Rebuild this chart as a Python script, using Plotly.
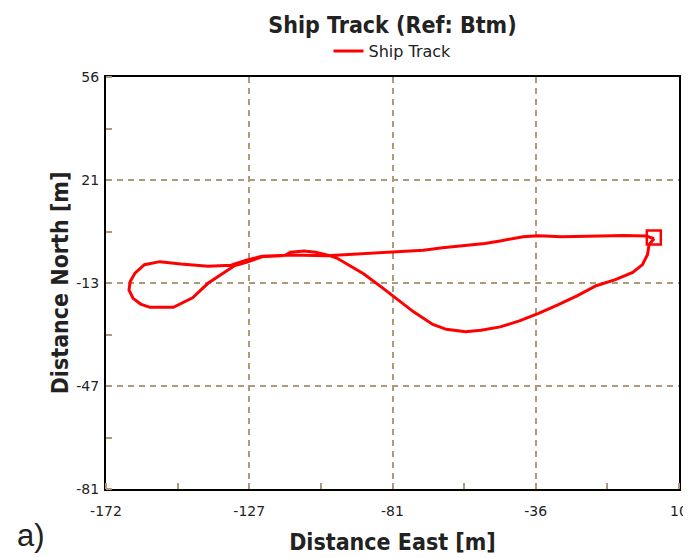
import plotly.graph_objects as go

# Ship track (Distance East, Distance North) in metres
east = [2.1, 0.5, 0.0, -1.6, -4.7, -10.2, -16.3, -22.4, -28.5, -34.6, -40.7, -46.8,
        -52.9, -57.8, -63.9, -68.2, -74.3, -80.4, -84.7, -90.2, -95.0, -98.7, -101.2,
        -105.4, -109.1, -113.4, -115.2, -122.5, -127.4, -131.1, -134.7, -139.6, -144.5,
        -148.2, -150.6, -158.0, -161.0, -163.4, -164.7, -164.3, -162.8, -159.8, -154.9,
        -148.2, -139.6, -132.3, -127.4, -122.5, -117.6, -112.8, -101.8, -95.7, -88.3,
        -81.0, -71.2, -65.1, -57.8, -51.7, -46.8, -39.5, -34.6, -27.3, -15.0, -7.7,
        -0.4, 2.1]
north = [2.2, 0.3, -3.0, -6.4, -9.0, -11.4, -13.4, -16.8, -19.8, -22.6, -25.1, -27.1,
         -28.2, -28.7, -27.9, -26.3, -22.1, -17.0, -13.7, -9.4, -6.4, -4.2, -3.3,
         -2.3, -1.9, -2.3, -3.4, -3.8, -5.6, -6.7, -9.2, -12.6, -17.4,
         -19.5, -20.6, -20.6, -19.5, -17.6, -14.8, -12.0, -9.2, -6.4, -5.4,
         -6.2, -6.9, -6.6, -4.9, -3.6, -3.4, -3.2, -3.4, -3.0, -2.5,
         -2.0, -1.6, -0.8, -0.1, 0.6, 1.5, 2.9, 3.2, 2.9, 3.1, 3.3,
         3.1, 2.2]

# Start / end marker
marker_east = [2.0]
marker_north = [2.6]

x_tickvals = [-172, -126.5, -81, -35.5, 10]
x_ticktext = ["-172", "-127", "-81", "-36", "10"]
y_tickvals = [-81, -46.75, -12.5, 21.75, 56]
y_ticktext = ["-81", "-47", "-13", "21", "56"]

GRID = "#ad9a7a"
FONT_NARROW = "DejaVu Sans Condensed, Liberation Sans Narrow, sans-serif"
FONT = "DejaVu Sans, Liberation Sans, sans-serif"

# page body has an 8px margin, so the figure is 8px smaller than the window
W, H = 683, 550

fig = go.Figure()
fig.add_trace(go.Scatter(x=east, y=north, mode="lines", name="Ship Track",
                         line=dict(color="#ff0000", width=3)))
fig.add_trace(go.Scatter(x=marker_east, y=marker_north, mode="markers", showlegend=False,
                         marker=dict(symbol="square-open", size=14, color="#ff0000",
                                     line=dict(width=2.5, color="#ff0000"))))

axis_common = dict(
    showgrid=True, gridcolor=GRID, griddash="6px,5px", gridwidth=1.5,
    showline=True, linecolor="black", linewidth=2, mirror=True,
    ticks="", zeroline=False, tickmode="array", automargin=False,
    tickfont=dict(family=FONT, size=14, color="#222"),
)

fig.update_layout(
    width=W, height=H,
    margin=dict(l=98, r=12, t=69, b=69),
    paper_bgcolor="white", plot_bgcolor="white",
    title=dict(text="<b>Ship Track (Ref: Btm)</b>", x=0.5, xref="paper", xanchor="center",
               y=1 - 17 / H, yanchor="middle",
               font=dict(family=FONT_NARROW, size=23, color="#222")),
    legend=dict(orientation="h", x=0.5, xanchor="center", xref="paper",
                y=1 - 43 / H, yanchor="middle", yref="container",
                font=dict(family=FONT, size=16, color="#222"),
                bgcolor="rgba(0,0,0,0)", tracegroupgap=0),
    xaxis=dict(range=[-172, 10], tickvals=x_tickvals, ticktext=x_ticktext,
               minor=dict(ticks="inside", ticklen=6, tickcolor=GRID, tickwidth=1.5,
                          dtick=22.75, tick0=-172, showgrid=False),
               ticklabelstandoff=8,
               title=dict(text="<b>Distance East [m]</b>", standoff=16,
                          font=dict(family=FONT_NARROW, size=23, color="#222")),
               **axis_common),
    yaxis=dict(range=[-81, 56], tickvals=y_tickvals, ticktext=y_ticktext,
               minor=dict(ticks="inside", ticklen=6, tickcolor=GRID, tickwidth=1.5,
                          dtick=17.125, tick0=-81, showgrid=False),
               ticklabelstandoff=2,
               title=dict(text="<b>Distance North [m]</b>", standoff=1,
                          font=dict(family=FONT_NARROW, size=23, color="#222")),
               **axis_common),
    showlegend=True,
)

fig.add_annotation(text="a)", xref="paper", yref="paper", x=-0.158, y=-0.112,
                   xanchor="left", yanchor="middle", showarrow=False,
                   font=dict(family="Liberation Sans, Arial, sans-serif", size=31, color="#222"))

fig.write_html("out.html")
